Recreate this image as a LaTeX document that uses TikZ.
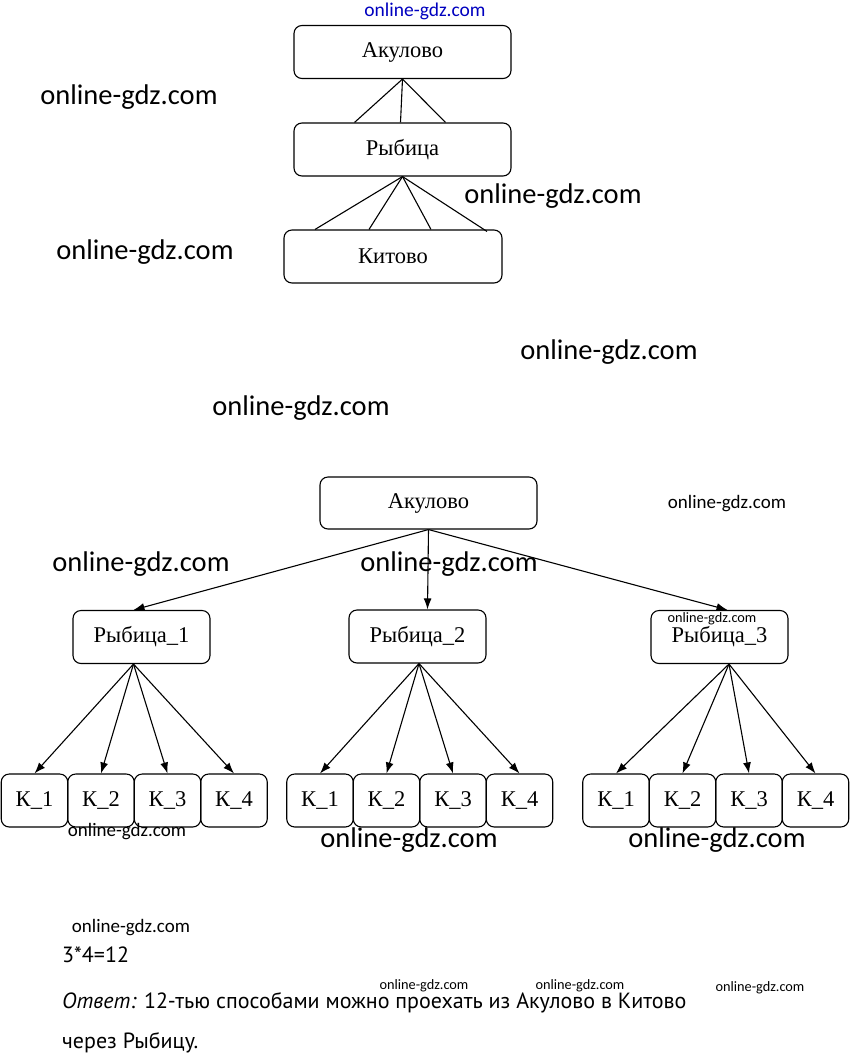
\documentclass[tikz,border=0pt]{standalone}
\usepackage{fontspec}
\setmainfont{Liberation Serif}
\newfontfamily\wmfont{Carlito}
\newfontfamily\ansfont{PT Sans}
\usetikzlibrary{arrows.meta}

\tikzset{
	townbox/.style={draw, rounded corners=8pt, line width=1.1pt, inner sep=0pt, minimum height=53pt, font=\fontsize{22.5}{26}\selectfont},
	bigbox/.style={townbox, minimum width=217pt},
	midbox/.style={townbox, minimum width=137pt},
	kbox/.style={townbox, minimum width=66.5pt},
	road/.style={line width=1.1pt},
	way/.style={line width=1.1pt, -{Latex[length=11pt,width=8pt]}},
	wmark/.style={inner sep=0pt, font=\wmfont\fontsize{#1}{#1}\selectfont},
	answer/.style={anchor=base west, inner sep=0pt, font=\ansfont\fontsize{22}{26}\selectfont},
}

\begin{document}
\begin{tikzpicture}[x=1pt,y=-1pt]
			%%%%% START %%%%%
			\useasboundingbox (0,0) rectangle (850,1053);
			
			% first scheme
			\node[bigbox] (akul) at (402.5,52) {Акулово};
			\node[bigbox] (ryb) at (402.5,149.5) {Рыбица};
			\node[bigbox, minimum width=218pt] (kit) at (393,256.5) {Китово};
			
			\draw[road] (akul.south) -- ([xshift=-48pt]ryb.north);
			\draw[road] (akul.south) -- ([xshift=-2pt]ryb.north);
			\draw[road] (akul.south) -- ([xshift=43pt]ryb.north);
			
			\draw[road] (ryb.south) -- ([xshift=-78pt]kit.north);
			\draw[road] (ryb.south) -- ([xshift=-24pt]kit.north);
			\draw[road] (ryb.south) -- ([xshift=38pt]kit.north);
			\draw[road] (ryb.south) -- ([xshift=94pt,yshift=-2pt]kit.north);
			
			% second scheme
			\node[bigbox, minimum height=52pt] (akulB) at (428.5,503) {Акулово};
			\node[midbox] (ryb1) at (141.5,637) {Рыбица\_1};
			\node[midbox] (ryb2) at (417.5,636.5) {Рыбица\_2};
			\node[midbox] (ryb3) at (719.5,637) {Рыбица\_3};
			
			\draw[way] (akulB.south) -- ([xshift=-8pt]ryb1.north);
			\draw[way] (akulB.south) -- ([xshift=10pt]ryb2.north);
			\draw[way] (akulB.south) -- ([xshift=8pt]ryb3.north);
			
			\node[kbox] (k11) at (34.5,800.5) {К\_1};
			\node[kbox] (k12) at (101,800.5) {К\_2};
			\node[kbox] (k13) at (167.5,800.5) {К\_3};
			\node[kbox] (k14) at (234,800.5) {К\_4};
			
			\node[kbox] (k21) at (320,800.5) {К\_1};
			\node[kbox] (k22) at (386.5,800.5) {К\_2};
			\node[kbox] (k23) at (453,800.5) {К\_3};
			\node[kbox] (k24) at (519.5,800.5) {К\_4};
			
			\node[kbox] (k31) at (616,800.5) {К\_1};
			\node[kbox] (k32) at (682.5,800.5) {К\_2};
			\node[kbox] (k33) at (749,800.5) {К\_3};
			\node[kbox] (k34) at (815.5,800.5) {К\_4};
			
			\draw[way] ([xshift=-8pt]ryb1.south) -- (k11.north);
			\draw[way] ([xshift=-8pt]ryb1.south) -- (k12.north);
			\draw[way] ([xshift=-8pt]ryb1.south) -- (k13.north);
			\draw[way] ([xshift=-8pt]ryb1.south) -- (k14.north);
			
			\draw[way] ([xshift=1.5pt]ryb2.south) -- (k21.north);
			\draw[way] ([xshift=1.5pt]ryb2.south) -- (k22.north);
			\draw[way] ([xshift=1.5pt]ryb2.south) -- (k23.north);
			\draw[way] ([xshift=1.5pt]ryb2.south) -- (k24.north);
			
			\draw[way] ([xshift=9.5pt]ryb3.south) -- (k31.north);
			\draw[way] ([xshift=9.5pt]ryb3.south) -- (k32.north);
			\draw[way] ([xshift=9.5pt]ryb3.south) -- (k33.north);
			\draw[way] ([xshift=9.5pt]ryb3.south) -- (k34.north);
			
			% answer
			\node[answer] (calc) at (62,962) {3*4=12};
			\node[answer] (ans) at (62,1008) {{\itshape Ответ:} 12-тью способами можно проехать из Акулово в Китово};
			\node[answer] (ans2) at (62,1048) {через Рыбицу.};
			
			% watermarks
			\node[wmark=19.5, text=blue!75!black] (wm0) at (425,11) {online-gdz.com};
			\node[wmark=28.5] (wm1) at (129,97) {online-gdz.com};
			\node[wmark=28.5] (wm2) at (553,196) {online-gdz.com};
			\node[wmark=28.5] (wm3) at (145,252) {online-gdz.com};
			\node[wmark=28.5] (wm4) at (609,352) {online-gdz.com};
			\node[wmark=28.5] (wm5) at (301,408) {online-gdz.com};
			\node[wmark=19] (wm6) at (727,504) {online-gdz.com};
			\node[wmark=28.5] (wm7) at (141,564) {online-gdz.com};
			\node[wmark=28.5] (wm8) at (449,564) {online-gdz.com};
			\node[wmark=14.3] (wm9) at (712,619) {online-gdz.com};
			\node[wmark=19] (wm10) at (127,832) {online-gdz.com};
			\node[wmark=28.5] (wm11) at (409,840) {online-gdz.com};
			\node[wmark=28.5] (wm12) at (717,840) {online-gdz.com};
			\node[wmark=19] (wm13) at (131,928) {online-gdz.com};
			\node[wmark=14.3] (wm14) at (424,986) {online-gdz.com};
			\node[wmark=14.3] (wm15) at (580,986) {online-gdz.com};
			\node[wmark=14.3] (wm16) at (760,988) {online-gdz.com};
			
			%%%%% END %%%%%
\end{tikzpicture}
\end{document}
